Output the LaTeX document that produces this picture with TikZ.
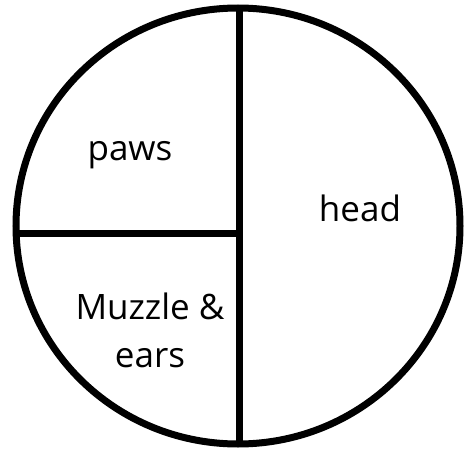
\documentclass[tikz,border=0pt]{standalone}
\usepackage{fontspec}
\setmainfont{Open Sans}
\tikzset{
  part/.style={font=\fontsize{35}{48}\selectfont, align=center, inner sep=0pt},
  rim/.style={line width=7pt}
}
\begin{document}
\begin{tikzpicture}[x=1pt,y=-1pt]
            \useasboundingbox (0,0) rectangle (466,452);

            % Whole circle
            \draw[rim] (238,226) ellipse (222 and 218);

            % Vertical split, head on the right
            \draw[rim] (239,8) -- (239,444);

            % Horizontal split on the left half
            \draw[rim] (16,233) -- (239,233);

            % Labels
            \node[part, anchor=base] (paws) at (130,160) {paws};
            \node[part, anchor=base] (head) at (360,221) {head};
            \node[part] (muzzle) at (150,330) {Muzzle \&\\ears};
        \end{tikzpicture}
\end{document}
